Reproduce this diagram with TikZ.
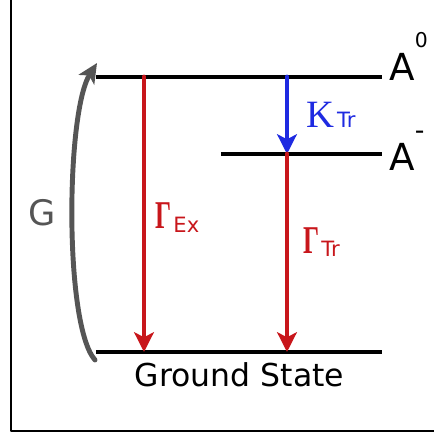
\documentclass[tikz,border=0pt]{standalone}
\usepackage{fontspec}
\setmainfont{DejaVu Sans}
\newfontfamily\grfont{Liberation Serif}
\usepackage{graphicx}
\usetikzlibrary{arrows.meta}

\definecolor{rosso}{RGB}{200,22,27}
\definecolor{blu}{RGB}{30,42,225}
\definecolor{grigio}{RGB}{85,85,85}

\newcommand{\pedice}[2]{\raisebox{#1}{\fontsize{15}{17}\selectfont #2}}
\newcommand{\Gam}{\scalebox{0.64}[1]{\grfont\bfseries Γ}}

\tikzset{
  livello/.style={line width=2.5pt, line cap=butt},
  freccia/.style={line width=3.5pt, -{Stealth[length=14pt, width=14pt, inset=3.5pt]}},
  etichetta/.style={inner sep=0pt, anchor=base west}
}

\begin{document}
\begin{tikzpicture}[x=0.025cm, y=-0.025cm, line cap=round, line join=round]
\useasboundingbox (0,0) rectangle (434,437);

% cornice: solo lato sinistro e lato in basso
\draw[line width=1.4pt, line cap=butt] (11,0) -- (11,431) -- (434,431);

% livelli energetici
\coordinate (A0s) at (96,77);   \coordinate (A0e) at (382,77);
\coordinate (Ams) at (221,154); \coordinate (Ame) at (382,154);
\coordinate (GSs) at (96,352);  \coordinate (GSe) at (382,352);
\draw[livello] (A0s) -- (A0e);
\draw[livello] (Ams) -- (Ame);
\draw[livello] (GSs) -- (GSe);

% punti di partenza e arrivo delle transizioni
\coordinate (ex0) at (144,77);
\coordinate (ex1) at (144,352);
\coordinate (tr0) at (287,77);
\coordinate (tr1) at (287,154);
\coordinate (tr2) at (287,352);

% Gamma_Ex: A0 -> stato fondamentale
\draw[freccia, rosso] (ex0) -- (ex1);
% K_Tr: A0 -> A-
\draw[freccia, blu] (tr0) -- (tr1);
% Gamma_Tr: A- -> stato fondamentale
\draw[freccia, rosso] (tr1) -- (tr2);

% generazione G (freccia curva grigia)
\coordinate (Gb) at (95,360);
\coordinate (Gt) at (97,63);
\draw[grigio, line width=3.5pt, -{Stealth[length=14pt, width=13pt, inset=3.5pt]}]
  (Gb) .. controls (64,325) and (66,112) .. (Gt);

% etichette
\node[etichetta, font=\fontsize{26.5}{30}\selectfont] (lA0) at (389,80)
  {A\raisebox{23pt}{\fontsize{14.5}{16}\selectfont 0}};
\node[etichetta, font=\fontsize{26.5}{30}\selectfont] (lAm) at (389,170)
  {A\raisebox{21.5pt}{\fontsize{19}{20}\selectfont -}};
\node[etichetta, blu, font=\fontsize{27.5}{32}\selectfont] (lK) at (306,127)
  {{\grfont K}\hspace{2pt}\pedice{-0.7pt}{Tr}};
\node[etichetta, rosso, font=\fontsize{28}{32}\selectfont] (lEx) at (155,228)
  {\Gam\hspace{1.5pt}\pedice{-3.5pt}{Ex}};
\node[etichetta, rosso, font=\fontsize{28}{32}\selectfont] (lTr) at (303,253)
  {\Gam\hspace{1.5pt}\pedice{-2.8pt}{Tr}};
\node[inner sep=0pt, anchor=base, grigio, font=\fontsize{25}{30}\selectfont] (lG) at (42.5,225) {G};
\node[inner sep=0pt, anchor=base, font=\fontsize{22.4}{26}\selectfont] (lGS) at (239.5,386) {Ground State};
\end{tikzpicture}
\end{document}
